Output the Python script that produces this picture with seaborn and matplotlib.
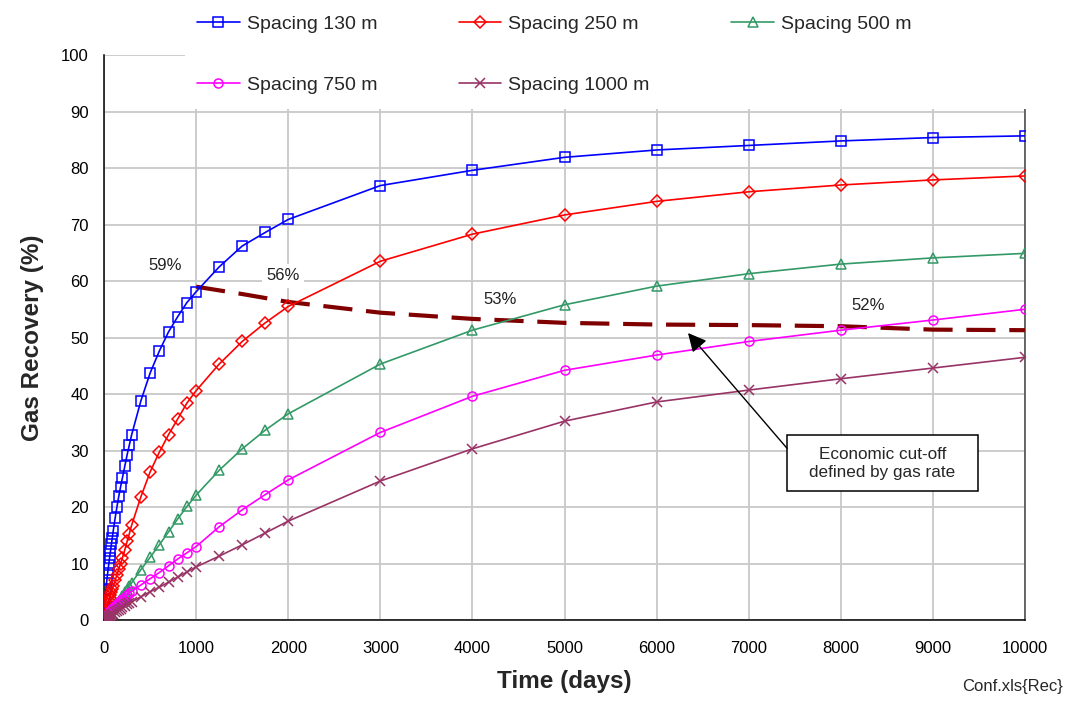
import matplotlib
matplotlib.use("Agg")
import matplotlib.pyplot as plt
from matplotlib.patches import Rectangle
import seaborn as sns
import pandas as pd

# ---------------- data ----------------
days = [0, 10, 20, 30, 40, 50, 60, 70, 80, 90, 100, 120, 140, 160, 180, 200, 225, 250, 275, 300,
        400, 500, 600, 700, 800, 900, 1000, 1250, 1500, 1750, 2000,
        3000, 4000, 5000, 6000, 7000, 8000, 9000, 10000]

rec_130 = [0, 3.5, 5.5, 7.0, 8.4, 9.7, 11.0, 12.2, 13.4, 14.6, 15.8, 18.0, 20.0, 21.9, 23.6, 25.2, 27.2, 29.2, 31.0, 32.8,
           38.8, 43.7, 47.6, 51.0, 53.7, 56.2, 58.1, 62.5, 66.2, 68.6, 70.9,
           76.9, 79.6, 81.9, 83.2, 84.0, 84.8, 85.4, 85.7]
rec_250 = [0, 0.9, 1.6, 2.2, 2.8, 3.4, 3.9, 4.5, 5.0, 5.5, 6.0, 7.0, 8.0, 9.0, 10.0, 11.0, 12.4, 13.9, 15.3, 16.8,
           21.8, 26.2, 29.7, 32.8, 35.6, 38.4, 40.6, 45.3, 49.3, 52.6, 55.5,
           63.5, 68.3, 71.7, 74.1, 75.8, 77.0, 77.9, 78.6]
rec_500 = [0, 0.3, 0.6, 0.8, 1.0, 1.2, 1.4, 1.6, 1.8, 2.0, 2.2, 2.6, 3.0, 3.4, 3.8, 4.3, 4.9, 5.4, 6.0, 6.6,
           8.9, 11.1, 13.3, 15.6, 17.9, 20.1, 22.1, 26.5, 30.3, 33.6, 36.5,
           45.3, 51.3, 55.8, 59.1, 61.3, 63.0, 64.1, 64.9]
rec_750 = [0, 0.3, 0.6, 0.8, 1.0, 1.2, 1.4, 1.6, 1.8, 2.0, 2.2, 2.5, 2.8, 3.1, 3.4, 3.7, 4.1, 4.4, 4.8, 5.1,
           6.2, 7.3, 8.4, 9.6, 10.8, 11.9, 13.0, 16.5, 19.5, 22.2, 24.8,
           33.2, 39.6, 44.2, 46.9, 49.3, 51.3, 53.1, 55.0]
rec_1000 = [0, 0.15, 0.3, 0.4, 0.5, 0.6, 0.7, 0.8, 0.95, 1.05, 1.15, 1.4, 1.6, 1.8, 2.0, 2.25, 2.5, 2.75, 3.0, 3.2,
            4.1, 5.0, 5.8, 6.7, 7.6, 8.5, 9.4, 11.3, 13.3, 15.4, 17.5,
            24.6, 30.3, 35.2, 38.6, 40.7, 42.7, 44.6, 46.5]

series_labels = ["Spacing 130 m", "Spacing 250 m", "Spacing 500 m", "Spacing 750 m", "Spacing 1000 m"]

cut_days = [1000, 1500, 2000, 3000, 4000, 5000, 6000, 7000, 8000, 9000, 10000]
cut_rec = [59.0, 57.7, 56.3, 54.4, 53.3, 52.6, 52.3, 52.2, 52.0, 51.4, 51.3]

pct_labels = ["59%", "56%", "53%", "52%"]
x_ticks = [0, 1000, 2000, 3000, 4000, 5000, 6000, 7000, 8000, 9000, 10000]
y_ticks = [0, 10, 20, 30, 40, 50, 60, 70, 80, 90, 100]

# ---------------- style ----------------
sns.set_style("white")
plt.rcParams["font.family"] = ["Liberation Sans", "DejaVu Sans"]

fig = plt.figure(figsize=(10.66, 7.06), dpi=100)
ax = fig.add_axes([0.0976, 0.1218, 0.9615 - 0.0976, 0.922 - 0.1218])

colors = ["#0000FF", "#FF0000", "#339966", "#FF00FF", "#993366"]
markers = ["s", "D", "^", "o", "x"]
msizes = [6.5, 5.8, 7, 6.5, 7]
all_rec = [rec_130, rec_250, rec_500, rec_750, rec_1000]

handles = []
for rec, lab, c, m, ms in zip(all_rec, series_labels, colors, markers, msizes):
    df = pd.DataFrame({"days": days, "rec": rec})
    sns.lineplot(data=df, x="days", y="rec", ax=ax, color=c, marker=m, markersize=ms,
                 markerfacecolor="none", markeredgecolor=c, markeredgewidth=1.1,
                 linewidth=1.2, sort=False, errorbar=None, zorder=3)
    handles.append(ax.lines[-1])

cut_df = pd.DataFrame({"days": cut_days, "rec": cut_rec})
sns.lineplot(data=cut_df, x="days", y="rec", ax=ax, color="#800000", linewidth=3.0,
             sort=False, errorbar=None, zorder=2.8)
ax.lines[-1].set_dashes((7, 3.3))

# percentage labels with white background
pct_pos = [(662, 62.7), (1944, 60.9), (4300, 56.8), (8295, 55.6)]
for t, (px, py) in zip(pct_labels, pct_pos):
    ax.text(px, py, t, ha="center", va="center", fontsize=12, color="#222222", zorder=2,
            bbox=dict(facecolor="white", edgecolor="none", pad=3))

# annotation box + arrow
ax.add_patch(Rectangle((7416, 22.8), 9490 - 7416, 32.7 - 22.8, facecolor="white",
                       edgecolor="black", linewidth=1.1, zorder=6))
ax.text(8453, 27.75, "Economic cut-off\ndefined by gas rate", ha="center", va="center",
        fontsize=12.3, zorder=7, linespacing=1.25)
ax.annotate("", xy=(6341, 50.8), xytext=(7416, 30.4), zorder=6,
            arrowprops=dict(arrowstyle="-|>", color="black", lw=1.0, mutation_scale=28,
                            shrinkA=0, shrinkB=0))

# axes
ax.set_xlim(0, 10000)
ax.set_ylim(0, 100)
ax.set_xticks(x_ticks)
ax.set_yticks(y_ticks)
ax.set_xticklabels([str(v) for v in x_ticks])
ax.set_yticklabels([str(v) for v in y_ticks])
ax.set_axisbelow(True)
ax.grid(True, color="#c8c8c8", linewidth=1.3)
for s in ["left", "bottom", "right"]:
    ax.spines[s].set_visible(True)
    ax.spines[s].set_color("black")
    ax.spines[s].set_linewidth(1.1)
ax.spines["right"].set_color("#444444")
ax.spines["top"].set_visible(False)
ax.tick_params(axis="both", which="major", direction="out", length=5, width=1, labelsize=12, colors="black")
ax.tick_params(axis="x", pad=10)
ax.tick_params(axis="y", pad=6)
ax.set_xlabel("Time (days)", fontsize=17.5, fontweight="bold", labelpad=10)
ax.set_ylabel("Gas Recovery (%)", fontsize=17.5, fontweight="bold", labelpad=12)

# white area behind the legend, covering the top of the plot frame
ax.add_patch(Rectangle((0.174, 0.845), 0.80, 0.16, transform=fig.transFigure, facecolor="white",
                       edgecolor="none", clip_on=False, zorder=10))

# legend (row-wise order)
order = [0, 3, 1, 4, 2]
leg = fig.legend([handles[i] for i in order], [series_labels[i] for i in order],
                 loc="upper left", bbox_to_anchor=(0.1665, 1.006), ncol=3, frameon=False,
                 fontsize=14, handlelength=2.2, handletextpad=0.35, columnspacing=4.2,
                 labelspacing=2.25, borderpad=0.5)

fig.text(0.997, 0.028, "Conf.xls{Rec}", ha="right", va="center", fontsize=12)

fig.savefig("out.png", dpi=100)
